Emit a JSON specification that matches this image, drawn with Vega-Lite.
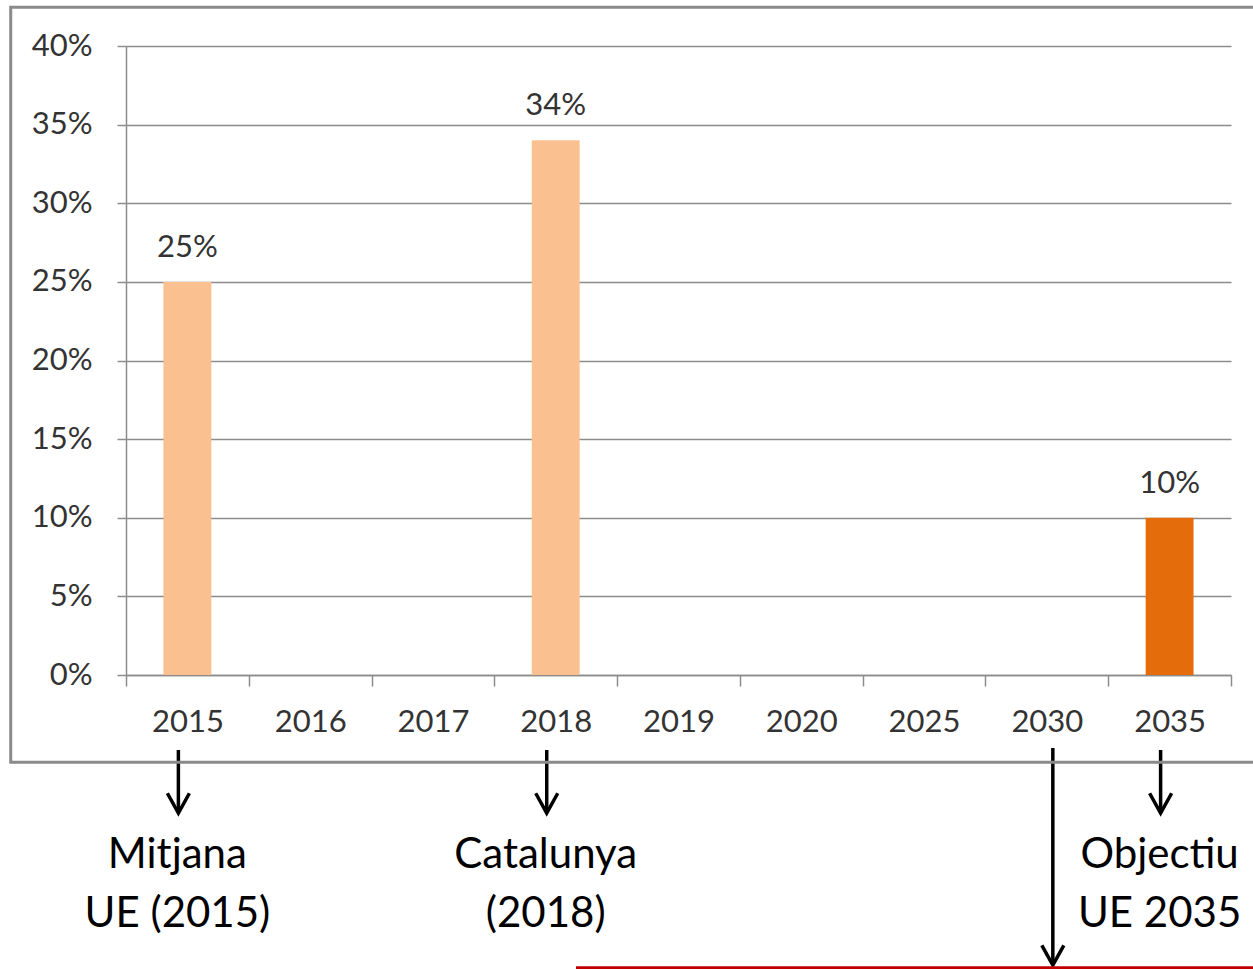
{
  "$schema": "https://vega.github.io/schema/vega-lite/v6.json",
  "width": 1105,
  "height": 629,
  "autosize": "none",
  "padding": {"left": 126, "top": 46, "right": 22, "bottom": 294},
  "background": "white",
  "config": {"view": {"stroke": null}, "font": "Lato"},
  "datasets": {
    "shares": [
      {"year": "2015", "value": 0.25, "kind": "real"},
      {"year": "2016", "value": null, "kind": "real"},
      {"year": "2017", "value": null, "kind": "real"},
      {"year": "2018", "value": 0.34, "kind": "real"},
      {"year": "2019", "value": null, "kind": "real"},
      {"year": "2020", "value": null, "kind": "real"},
      {"year": "2025", "value": null, "kind": "real"},
      {"year": "2030", "value": null, "kind": "real"},
      {"year": "2035", "value": 0.10, "kind": "objectiu"}
    ],
    "notes": [
      {"year": "2015", "label": ["Mitjana", "UE (2015)"]},
      {"year": "2018", "label": ["Catalunya", "(2018)"]},
      {"year": "2035", "label": ["Objectiu", "UE 2035"]}
    ],
    "pointer": [
      {"year": "2030"}
    ]
  },
  "layer": [
    {
      "encoding": {
        "x": {
          "field": "year",
          "type": "ordinal",
          "scale": {
            "domain": ["2015", "2016", "2017", "2018", "2019", "2020", "2025", "2030", "2035"],
            "paddingInner": 0,
            "paddingOuter": 0
          },
          "axis": {
            "title": null,
            "labelAngle": 0,
            "tickBand": "extent",
            "domainColor": "#8c8c8c",
            "domainWidth": 1.5,
            "tickColor": "#8c8c8c",
            "tickWidth": 1.5,
            "tickSize": 11,
            "labelFont": "Lato",
            "labelFontSize": 31,
            "labelColor": "#333333",
            "labelBaseline": "alphabetic",
            "labelPadding": 45,
            "grid": false
          }
        }
      },
      "layer": [
        {
          "data": {"name": "shares"},
          "mark": {"type": "bar", "width": {"band": 0.39}},
          "encoding": {
            "y": {
              "field": "value",
              "type": "quantitative",
              "scale": {"domain": [0, 0.4], "nice": false},
              "axis": {
                "title": null,
                "values": [0, 0.05, 0.1, 0.15, 0.2, 0.25, 0.3, 0.35, 0.4],
                "format": ".0%",
                "grid": true,
                "gridColor": "#8c8c8c",
                "gridWidth": 1.5,
                "domainColor": "#8c8c8c",
                "domainWidth": 1.5,
                "tickColor": "#8c8c8c",
                "tickWidth": 1.5,
                "tickSize": 9,
                "labelPadding": 25,
                "labelFont": "Lato",
                "labelFontSize": 31,
                "labelColor": "#333333"
              }
            },
            "color": {
              "field": "kind",
              "type": "nominal",
              "scale": {"domain": ["real", "objectiu"], "range": ["#FAC090", "#E46C0A"]},
              "legend": null
            }
          }
        },
        {
          "data": {"name": "shares"},
          "transform": [{"filter": "datum.value != null"}],
          "mark": {"type": "text", "baseline": "alphabetic", "align": "center", "dy": -25, "fontSize": 31, "font": "Lato", "color": "#333333"},
          "encoding": {
            "y": {"field": "value", "type": "quantitative", "scale": {"domain": [0, 0.4], "nice": false}, "title": null},
            "text": {"field": "value", "type": "quantitative", "format": ".0%"}
          }
        },
        {
          "data": {"name": "notes"},
          "mark": {"type": "rule", "color": "black", "strokeWidth": 3.5, "xOffset": -9},
          "encoding": {
            "y": {"datum": -0.0477, "type": "quantitative", "scale": {"domain": [0, 0.4], "nice": false}, "title": null},
            "y2": {"datum": -0.0878}
          }
        },
        {
          "data": {"name": "notes"},
          "mark": {"type": "point", "shape": "M-1,-1.8L0,0L1,-1.8", "size": 484, "filled": false, "color": "black", "strokeWidth": 3.5, "opacity": 1, "xOffset": -9},
          "encoding": {
            "y": {"datum": -0.0878, "type": "quantitative", "scale": {"domain": [0, 0.4], "nice": false}, "title": null}
          }
        },
        {
          "data": {"name": "notes"},
          "mark": {"type": "text", "align": "center", "baseline": "alphabetic", "fontSize": 42, "font": "Lato", "color": "black", "lineHeight": 59, "xOffset": -10},
          "encoding": {
            "y": {"datum": -0.1227, "type": "quantitative", "scale": {"domain": [0, 0.4], "nice": false}, "title": null},
            "text": {"field": "label"}
          }
        },
        {
          "data": {"name": "pointer"},
          "mark": {"type": "rule", "color": "black", "strokeWidth": 3.5, "xOffset": 6},
          "encoding": {
            "y": {"datum": -0.0464, "type": "quantitative", "scale": {"domain": [0, 0.4], "nice": false}, "title": null},
            "y2": {"datum": -0.1845}
          }
        },
        {
          "data": {"name": "pointer"},
          "mark": {"type": "point", "shape": "M-1,-1.8L0,0L1,-1.8", "size": 484, "filled": false, "color": "black", "strokeWidth": 3.5, "opacity": 1, "xOffset": 6},
          "encoding": {
            "y": {"datum": -0.1845, "type": "quantitative", "scale": {"domain": [0, 0.4], "nice": false}, "title": null}
          }
        }
      ]
    },
    {
      "data": {"values": [{}]},
      "layer": [
        {
          "mark": {"type": "rect", "filled": false, "stroke": "#8a8a8a", "strokeWidth": 3},
          "encoding": {
            "x": {"datum": -1.439, "type": "quantitative", "scale": {"domain": [-0.5, 8.5], "nice": false, "zero": false}, "axis": null},
            "x2": {"datum": 8.8},
            "y": {"datum": 0.4246, "type": "quantitative", "scale": {"domain": [0, 0.4], "nice": false}, "title": null},
            "y2": {"datum": -0.0555}
          }
        },
        {
          "mark": {"type": "rule", "color": "#C00000", "strokeWidth": 4},
          "encoding": {
            "x": {"datum": 3.165, "type": "quantitative", "scale": {"domain": [-0.5, 8.5], "nice": false, "zero": false}, "axis": null},
            "x2": {"datum": 8.8},
            "y": {"datum": -0.1865, "type": "quantitative", "scale": {"domain": [0, 0.4], "nice": false}, "title": null}
          }
        }
      ]
    }
  ],
  "resolve": {"scale": {"x": "independent"}}
}
